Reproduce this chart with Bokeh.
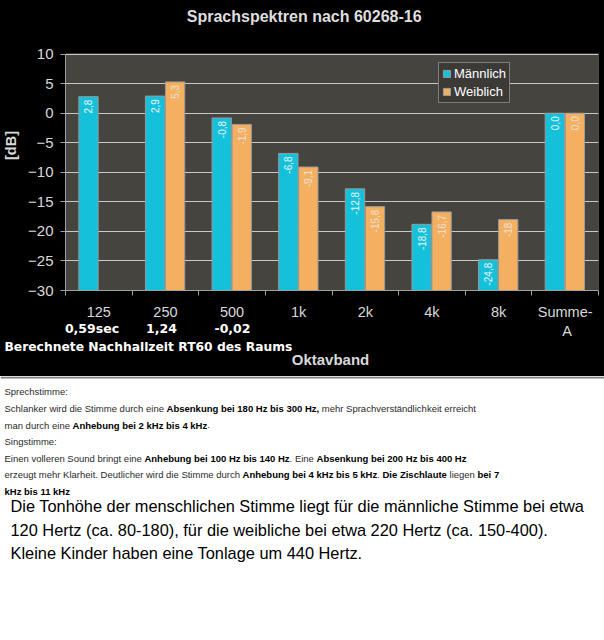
import math
from bokeh.plotting import figure
from bokeh.layouts import column
from bokeh.models import (ColumnDataSource, Range1d, FixedTicker, LabelSet,
                          Legend, LegendItem)
from bokeh.embed import file_html
from bokeh.resources import INLINE
from bokeh.core.properties import value

# ---------------- data ----------------
categories = ["125", "250", "500", "1k", "2k", "4k", "8k", "Summe-"]
category_line2 = ["", "", "", "", "", "", "", "A"]
maennlich = [2.8, 2.9, -0.8, -6.8, -12.8, -18.8, -24.8, 0.0]
weiblich = [None, 5.3, -1.9, -9.1, -15.8, -16.7, -18.0, 0.0]
maennlich_labels = ["2,8", "2,9", "-0,8", "-6,8", "-12,8", "-18,8", "-24,8", "0,0"]
weiblich_labels = [None, "5,3", "-1,9", "-9,1", "-15,8", "-16,7", "-18", "0,0"]
rt60_labels = ["0,59sec", "1,24", "-0,02"]
y_ticks = [-30, -25, -20, -15, -10, -5, 0, 5, 10]

title_text = "Sprachspektren nach 60268-16"
rt60_caption = "Berechnete Nachhallzeit RT60 des Raums"
x_title = "Oktavband"
y_title = "[dB]"

small_lines = [
    [("Sprechstimme:", False)],
    [("Schlanker wird die Stimme durch eine ", False), ("Absenkung bei 180 Hz bis 300 Hz,", True),
     (" mehr Sprachverständlichkeit erreicht", False)],
    [("man durch eine ", False), ("Anhebung bei 2 kHz bis 4 kHz", True), (".", False)],
    [("Singstimme:", False)],
    [("Einen volleren Sound bringt eine ", False), ("Anhebung bei 100 Hz bis 140 Hz", True),
     (". Eine ", False), ("Absenkung bei 200 Hz bis 400 Hz", True)],
    [("erzeugt mehr Klarheit. Deutlicher wird die Stimme durch ", False),
     ("Anhebung bei 4 kHz bis 5 kHz", True), (". ", False), ("Die Zischlaute", True),
     (" liegen ", False), ("bei 7", True)],
    [("kHz bis 11 kHz", True)],
]
comic_lines = [
    "Die Tonhöhe der menschlichen Stimme liegt für die männliche Stimme bei etwa",
    "120 Hertz (ca. 80-180), für die weibliche bei etwa 220 Hertz (ca. 150-400).",
    "Kleine Kinder haben eine Tonlage um 440 Hertz.",
]

# ---------------- Arial-compatible metrics (Liberation Sans) ----------------
def _tab(upper, lower, punct):
    t = {}
    for d in "0123456789":
        t[d] = 556
    for s in (upper, lower):
        for tok in s.split():
            t[tok[0]] = int(tok[1:])
    t.update(punct)
    return t

AN = _tab("A667 B667 C722 D722 E667 F611 G778 H722 I278 J500 K667 L556 M833 N722 O778 P667 "
          "Q778 R722 S667 T611 U722 V667 W944 X667 Y667 Z611",
          "a556 b556 c500 d556 e556 f278 g556 h556 i222 j222 k500 l222 m833 n556 o556 p556 q556 "
          "r333 s500 t278 u556 v500 w722 x500 y500 z500 ä556 ö556 ü556",
          {" ": 278, ",": 278, ".": 278, ":": 278, "-": 333, "(": 333, ")": 333})
AB = _tab("A722 B722 C722 D722 E667 F611 G778 H722 I278 J556 K722 L611 M833 N722 O778 P667 "
          "Q778 R722 S667 T611 U722 V667 W944 X667 Y667 Z611",
          "a556 b611 c556 d611 e556 f333 g611 h611 i278 j278 k556 l278 m889 n611 o611 p611 q611 "
          "r389 s556 t333 u611 v556 w778 x556 y556 z500 ä556 ö611 ü611",
          {" ": 278, ",": 278, ".": 278, ":": 333, "-": 333, "(": 333, ")": 333})

def text_w(s, bold, size):
    t = AB if bold else AN
    return sum(t.get(c, 556) for c in s) * size / 1000.0

# ---------------- layout constants ----------------
W = 604
H_CHART, H_MID = 322, 54
H_BOT = 640 - H_CHART - H_MID
Y_MID = H_CHART                  # page y where the strip under the axis starts
Y_BOT = H_CHART + H_MID          # page y where the white text panel starts
FL, FR, FT, FB = 62, 598, 54, 292  # plot-area edges in page px (frame top is page y 0)

CYAN = "#14c0da"
ORANGE = "#f4b060"
PLOT_BG = "#46443f"
LIGHT = "#d9d9d9"

N = len(categories)
y_lo, y_hi = y_ticks[0], y_ticks[-1]
# the frame reaches the top of the canvas; the plot area itself ends at y_hi
y_frame_top = y_hi + FT * (y_hi - y_lo) / (FB - FT)


def xd(px):
    return (px - FL) / (FR - FL) * N


def yd(py):
    return y_hi + (FT - py) * (y_hi - y_lo) / (FB - FT)


def panel(height, bg):
    f = figure(width=W, height=height, x_range=Range1d(0, W), y_range=Range1d(height, 0),
               output_backend="svg", toolbar_location=None,
               min_border=0, min_border_left=0, min_border_right=0,
               min_border_top=0, min_border_bottom=0,
               x_axis_location=None, y_axis_location=None,
               background_fill_color=bg, border_fill_color=bg, outline_line_color=None)
    f.grid.visible = False
    return f


# ---------------- chart ----------------
p = figure(width=W, height=H_CHART, x_range=Range1d(0, N),
           y_range=Range1d(y_lo, y_frame_top),
           output_backend="svg", toolbar_location=None,
           min_border_left=FL, min_border_right=W - FR, min_border_top=0,
           min_border_bottom=Y_MID - FB,
           background_fill_color="black", border_fill_color="black",
           outline_line_color=None)

# plot area background and border
p.quad(left=[0], right=[N], bottom=[y_lo], top=[y_hi], fill_color=PLOT_BG,
       line_color="#8a8a8a", line_width=1, level="image")

centers = [i + 0.5 for i in range(N)]
src_m = ColumnDataSource(dict(x=[c - 0.155 for c in centers], top=maennlich, label=maennlich_labels))
fx, ft, fl = [], [], []
for c, v, l in zip(centers, weiblich, weiblich_labels):
    if v is not None:
        fx.append(c + 0.145)
        ft.append(v)
        fl.append(l)
src_f = ColumnDataSource(dict(x=fx, top=ft, label=fl))

r_m = p.vbar(x="x", top="top", bottom=y_lo, width=0.29, source=src_m,
             fill_color=CYAN, line_color="#9a9a9a", line_width=1)
r_f = p.vbar(x="x", top="top", bottom=y_lo, width=0.29, source=src_f,
             fill_color=ORANGE, line_color="#9a9a9a", line_width=1)

for src, col in ((src_m, "#eef6f8"), (src_f, "#e8e2da")):
    p.add_layout(LabelSet(x="x", y="top", text="label", source=src, angle=math.pi / 2,
                          text_align="right", text_baseline="middle", y_offset=-3,
                          text_font=value("Liberation Sans"), text_font_size="10px",
                          text_color=col))

# title (inside the frame, above the plot area)
p.text(x=[xd(302)], y=[yd(16)], text=[title_text], text_align="center", text_baseline="middle",
       text_font=value("Liberation Sans"), text_font_style="bold",
       text_font_size="16px", text_color="#dedede")

p.xaxis.ticker = FixedTicker(ticks=centers, minor_ticks=list(range(N + 1)))
p.xaxis.major_label_overrides = {c: n for c, n in zip(centers, categories)}
p.xaxis.major_tick_out = 0
p.xaxis.major_tick_in = 0
p.xaxis.minor_tick_out = 5
p.xaxis.minor_tick_in = 0
p.xaxis.minor_tick_line_color = "#a0a0a0"
p.xaxis.axis_line_color = "#a0a0a0"
p.xaxis.major_label_standoff = 8
p.xaxis.major_label_text_font = "Liberation Sans"
p.xaxis.major_label_text_font_size = "14.5px"
p.xaxis.major_label_text_color = LIGHT

p.yaxis.bounds = (y_lo, y_hi)
p.yaxis.ticker = FixedTicker(ticks=y_ticks, minor_ticks=[])
p.yaxis.major_tick_out = 5
p.yaxis.major_tick_in = 0
p.yaxis.major_tick_line_color = "#a0a0a0"
p.yaxis.axis_line_color = "#a0a0a0"
p.yaxis.major_label_standoff = 7
p.yaxis.major_label_text_font = "Liberation Sans"
p.yaxis.major_label_text_font_size = "15px"
p.yaxis.major_label_text_color = LIGHT
p.yaxis.axis_label = y_title
p.yaxis.axis_label_text_font = "Liberation Sans"
p.yaxis.axis_label_text_font_style = "bold"
p.yaxis.axis_label_text_font_size = "14.5px"
p.yaxis.axis_label_text_color = LIGHT
p.yaxis.axis_label_standoff = 6

p.xgrid.visible = False
p.ygrid.ticker = FixedTicker(ticks=y_ticks)
p.ygrid.grid_line_color = "#c8c8c8"
p.ygrid.grid_line_width = 1

legend = Legend(items=[LegendItem(label="Männlich", renderers=[r_m]),
                       LegendItem(label="Weiblich", renderers=[r_f])],
                location=(435 - FL, FB - 105),
                background_fill_color="#3c3a37", background_fill_alpha=1.0,
                border_line_color="#c0c0c0", border_line_width=1,
                label_text_color="white", label_text_font="Liberation Sans",
                label_text_font_size="13px", glyph_width=9, glyph_height=9,
                label_height=15, padding=3, spacing=3, label_standoff=3, margin=0)
p.add_layout(legend)

# ---------------- strip under the axis ----------------
mid = panel(H_MID, "black")
line2_x = [FL + (c / N) * (FR - FL) + 2 for c, t in zip(centers, category_line2) if t]
line2_t = [t for t in category_line2 if t]
mid.text(x=line2_x, y=[330 - Y_MID] * len(line2_t), text=line2_t, text_align="center",
         text_baseline="middle", text_font=value("Liberation Sans"),
         text_font_size="14.5px", text_color=LIGHT)
mid.text(x=[91.5, 161, 232], y=[327.5 - Y_MID] * 3, text=rt60_labels, text_align="center",
         text_baseline="middle", text_font=value("DejaVu Sans"), text_font_style="bold",
         text_font_size="12.5px", text_color="white")
mid.text(x=[4], y=[346 - Y_MID], text=[rt60_caption], text_align="left",
         text_baseline="middle", text_font=value("DejaVu Sans"), text_font_style="bold",
         text_font_size="12.3px", text_color="white")
mid.text(x=[(FL + FR) / 2], y=[359 - Y_MID], text=[x_title], text_align="center",
         text_baseline="middle", text_font=value("Liberation Sans"), text_font_style="bold",
         text_font_size="15px", text_color=LIGHT)

# ---------------- lower text panel ----------------
q = panel(H_BOT, "white")
q.segment(x0=[0], y0=[1], x1=[W], y1=[1], line_color="#808080", line_width=2)

FS_SMALL = 9.5
small_y = [15, 32, 48.5, 65, 81.5, 98, 114.5]
nx, ny, nt, bx, by, bt = [], [], [], [], [], []
for line, yy in zip(small_lines, small_y):
    xx = 4.0
    for seg, bold in line:
        lead = len(seg) - len(seg.lstrip(" "))
        x0 = xx + text_w(seg[:lead], bold, FS_SMALL)
        if bold:
            bx.append(x0); by.append(yy); bt.append(seg.strip())
        else:
            nx.append(x0); ny.append(yy); nt.append(seg.strip())
        xx += text_w(seg, bold, FS_SMALL)
q.text(x=nx, y=ny, text=nt, text_align="left", text_baseline="middle",
       text_font=value("Liberation Sans"), text_font_size=f"{FS_SMALL}px", text_color="#2a2a2a")
q.text(x=bx, y=by, text=bt, text_align="left", text_baseline="middle",
       text_font=value("Liberation Sans"), text_font_style="bold",
       text_font_size=f"{FS_SMALL}px", text_color="black")

fs_c = 576.0 / text_w(comic_lines[0], False, 1.0)
q.text(x=[10] * 3, y=[129.5, 153, 176], text=comic_lines, text_align="left",
       text_baseline="middle", text_font=value("Liberation Sans"),
       text_font_size=f"{fs_c:.2f}px", text_color="black")

# each figure in its own column so that their frames are not aligned to each other
layout = column(column(p), column(mid), column(q), spacing=0)

# page behind the canvases: black behind the chart, white behind the text panel,
# so that anti-aliased seams at canvas edges vanish
try:
    from bokeh.models import GlobalInlineStyleSheet
    css = ("html, body { background: linear-gradient(to bottom, #000000 0px, #000000 %dpx, "
           "#ffffff %dpx, #ffffff 100%%) no-repeat; background-color: #ffffff; }" % (Y_BOT, Y_BOT))
    layout.stylesheets = [GlobalInlineStyleSheet(css=css)]
except Exception:
    pass

open("out.html", "w").write(file_html(layout, INLINE))
